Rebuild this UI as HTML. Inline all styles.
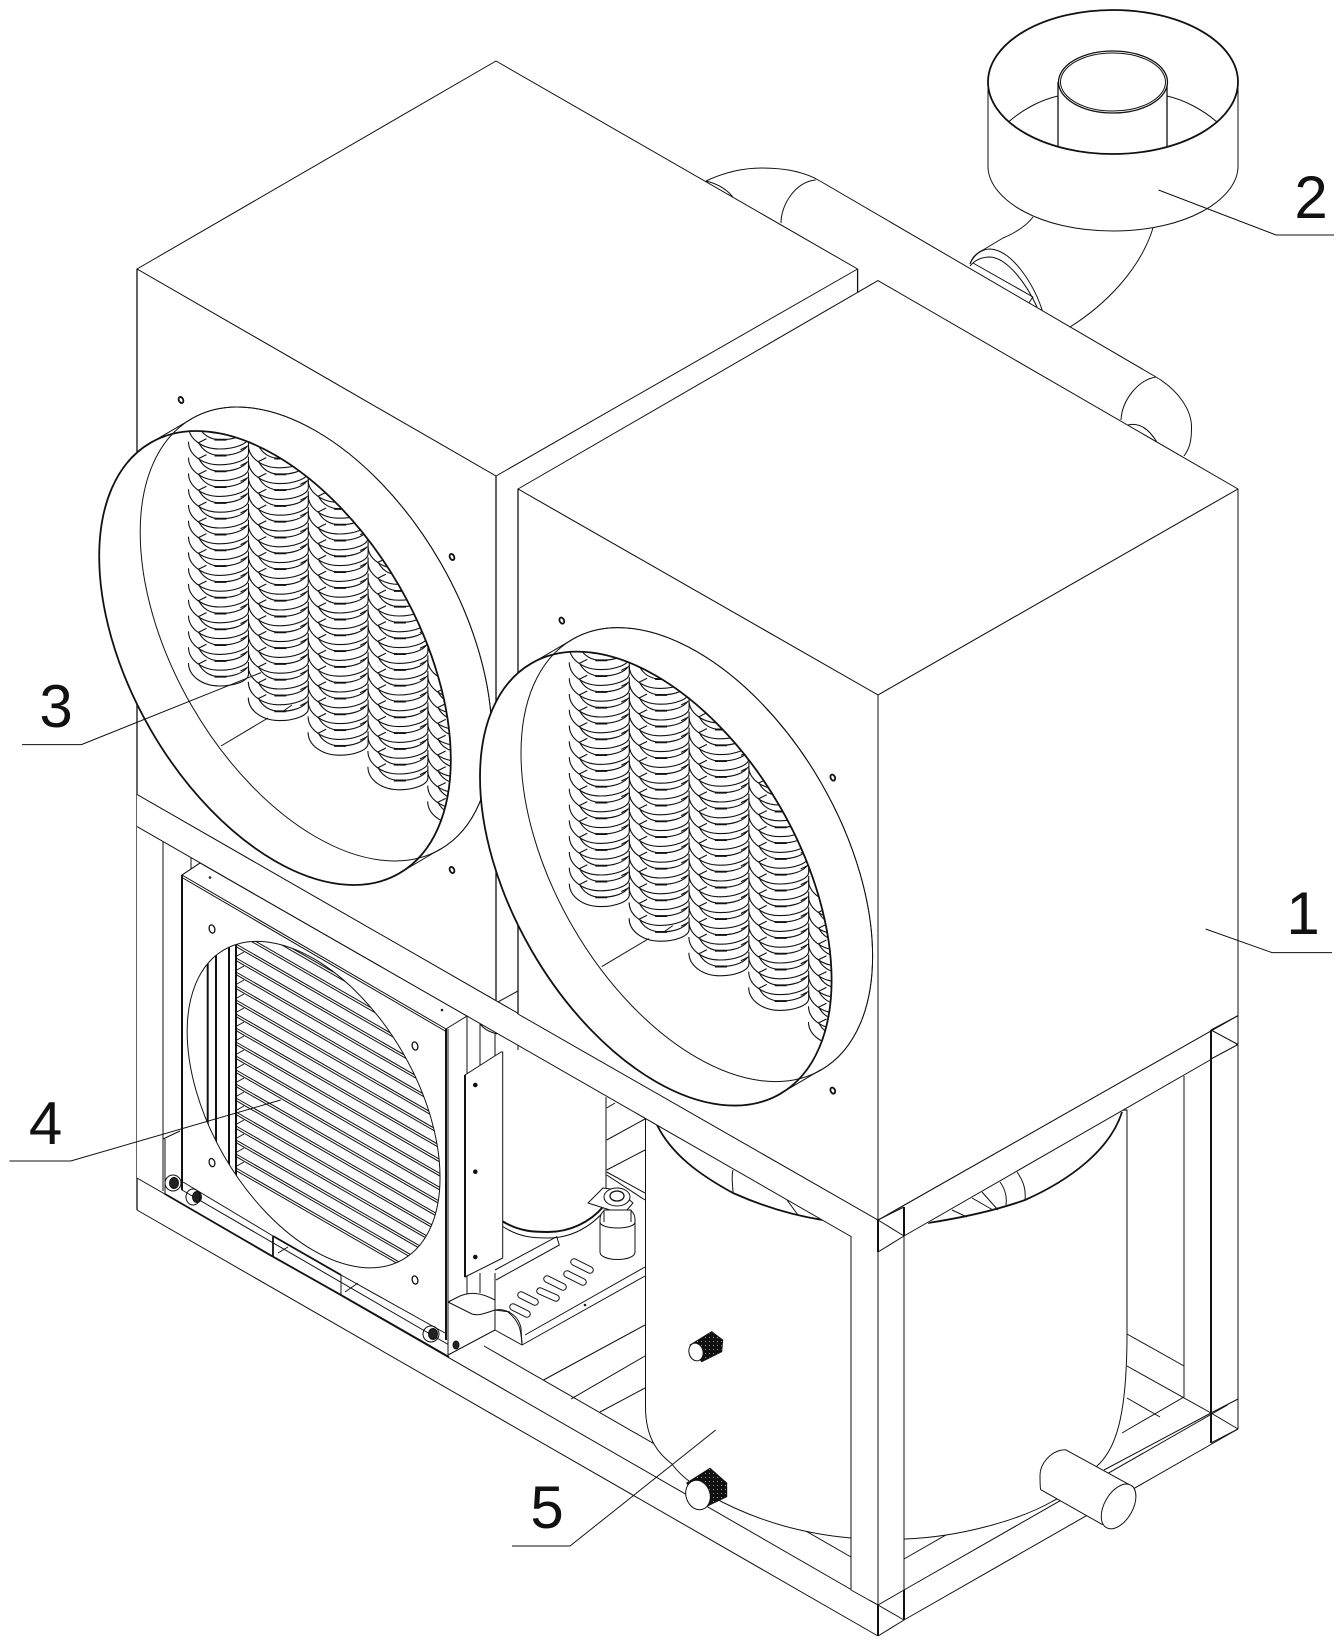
<!DOCTYPE html>
<html><head><meta charset="utf-8"><style>
html,body{margin:0;padding:0;background:#fff}
svg{display:block}
.g *{vector-effect:non-scaling-stroke}
text{font-family:"Liberation Sans",sans-serif;font-size:60px;fill:#111;stroke:none;text-anchor:middle}
.w{fill:#fff}.b{stroke-width:1.8}.m{stroke-width:1.3}
</style></head><body>
<svg width="1343" height="1647" viewBox="0 0 1343 1647" xmlns="http://www.w3.org/2000/svg" fill="none" stroke="#111" stroke-width="1" stroke-linejoin="round">
<defs>
<clipPath id="c1"><circle r="203" transform="matrix(.866 .5 0 1 275 658)"/></clipPath>
<clipPath id="c2" clip-path="url(#c1)"><circle r="203" transform="matrix(.866 .5 0 1 316 634)"/></clipPath>
<clipPath id="fc"><circle r="146" transform="matrix(.866 .5 0 1 313.6 1104.6)"/></clipPath>
<pattern id="kn" width="4" height="4" patternUnits="userSpaceOnUse"><rect width="4" height="4" fill="#111" stroke="none"/><rect x="1" y="1" width="1" height="1" fill="#999" stroke="none"/></pattern>
<g id="u" stroke-width="1.1">
<path d="M0,-23C0,-10 14,0 31,0C46,0 60,-5 60,-12V-24"/>
<path d="M10,-22.7C14,-14 22,-9.3 32,-9.3C45,-9.3 55,-13 59,-19"/>
<path d="M26,-9.3h12" stroke-width="1.9"/>
<path d="M10,-22l8,-4M52,-15l6,-3"/>
</g>
<g id="col">
<use href="#u"/><use href="#u" y="-15.8"/><use href="#u" y="-31.6"/><use href="#u" y="-47.4"/><use href="#u" y="-63.2"/><use href="#u" y="-79"/><use href="#u" y="-94.8"/><use href="#u" y="-110.6"/><use href="#u" y="-126.4"/><use href="#u" y="-142.2"/><use href="#u" y="-158"/><use href="#u" y="-173.8"/><use href="#u" y="-189.6"/><use href="#u" y="-205.4"/><use href="#u" y="-221.2"/><use href="#u" y="-237"/><use href="#u" y="-252.8"/><use href="#u" y="-268.6"/>
</g>
<g id="duct">
<g class="b"><ellipse cx="181" cy="400" rx="2.2" ry="3.2" transform="rotate(-25 181 400)"/><ellipse cx="452" cy="557" rx="2.2" ry="3.2" transform="rotate(-25 452 557)"/><ellipse cx="452" cy="870" rx="2.2" ry="3.2" transform="rotate(-25 452 870)"/></g>
<g class="g">
<circle class="w" r="203" transform="matrix(.866 .5 0 1 316 634)"/>
<polygon class="w" stroke="none" points="150.7,442.8 191.7,418.8 440.3,849 399.3,873.2"/>
<circle class="w" r="203" stroke="none" transform="matrix(.866 .5 0 1 275 658)"/>
<circle r="203" transform="matrix(.866 .5 0 1 316 634)"/>
</g>
<path d="M150.7,442.8L191.7,418.8M399.3,873.2L440.3,849"/>
<path d="M221,746L268,718M282,712L292,705"/>
<g clip-path="url(#c2)">
<use href="#col" x="188.5" y="686"/>
<use href="#col" x="248.3" y="720.6"/>
<use href="#col" x="308.1" y="755.2"/>
<use href="#col" x="367.9" y="789.8"/>
<use href="#col" x="427.7" y="824.4"/>
</g>
<g class="g"><circle r="203" stroke-width="1.8" transform="matrix(.866 .5 0 1 275 658)"/></g>
</g>
<g id="fin"><path d="M236,0L460,129M236,2.6L460,131.6M236,-1.5L244,-6"/></g>
</defs>
<rect width="1343" height="1647" fill="#fff" stroke="none"/>

<!-- elbow and blower -->
<path d="M1153,228C1140,270 1105,305 1070,327"/>
<path d="M1033,217C1025,228 1010,235 1003,238L983,250C975,254 972,258 970,264"/>
<path d="M970,264C975,252 985,249 990,249C1012,250 1035,285 1043,313"/>
<path d="M970,266C975,260 982,257 990,257C1008,258 1027,285 1037,307"/>
<path d="M973,263L1033,297L1028,304"/>
<path class="w" d="M988,82V168C990,200 1040,231 1113,231C1186,231 1236,200 1238,168V82Z"/>
<ellipse class="w b" cx="1113" cy="82" rx="125" ry="72"/>
<path d="M1008.5,122C1022,110 1040,100 1058,96M1167,96C1185,100 1203,110 1217,122"/>
<path class="m" d="M1058,82V147M1167,82V147"/>
<ellipse class="w m" cx="1113" cy="82" rx="54.5" ry="31"/>
<ellipse cx="1113" cy="82" rx="52.5" ry="29"/>
<!-- pipe -->
<path class="w" d="M706,181C725,172 745,168 762,168C785,168 805,172 820,181L1043,311L1156,377C1178,390 1192,410 1191.5,428C1191.5,440 1190,448 1184,456L850,270Z" stroke="none"/>
<path d="M706,181C725,172 745,168 762,168C785,168 805,172 820,181L1156,377C1178,390 1192,410 1191.5,428C1191.5,440 1190,448 1184,456"/>
<path d="M815.6,180C795,182 781,205 781,223M706,181C718,184 728,190 734,198.6M1156,377C1138,380 1122,400 1121,420M1128,425C1140,422 1150,430 1158,444"/>

<!-- back box -->
<polygon class="w" points="496,61 857.6,269 496,476 137,269"/>
<polygon class="w" points="137,269 496,476 496,1001 137,794.5"/>
<path class="m" d="M137,269V1210M496,476V1003"/>
<path class="m" d="M857.6,269V293"/>
<path d="M857.6,293L872,284"/>
<use href="#duct"/>

<!-- area below rail: posts -->
<path class="w" stroke="none" d="M137,826V1178L878,1605V1252Z"/>
<path d="M163,841V1191M137,1178L878,1605M137,1210L878,1636"/>
<path d="M191,857V873M518,1014V991L496,1003M496,1003V1030M518,991V1050"/>
<path d="M165,1139V1194M163,1139L180,1131"/>

<!-- compressor and base behind -->
<path d="M606,1097V1190M480,1024V1065M495,1034V1070M480,1024C485,1030 490,1032 497,1034"/>
<path d="M480,1273V1293M495,1273V1300"/>
<path d="M606.7,1108L615,1103M606.7,1140L645,1119M606.7,1170L645,1150"/>
<path d="M606.7,1172L645,1193M606.7,1175L645,1200"/>
<path stroke-width="2" d="M502,1221C520,1232 535,1232 548,1232C570,1232 590,1222 603,1207"/>
<path d="M502,1226C520,1238 535,1238 548,1238C572,1238 592,1226 605,1210"/>
<path d="M495,1270L556.7,1236.7L559.3,1245L496,1280"/>
<!-- capacitor -->
<path class="w" d="M600,1220V1252C600,1262 635,1262 635,1252V1220C635,1212 631,1212 631,1210H604C604,1212 600,1212 600,1220Z"/>
<path d="M600,1222C600,1230 635,1230 635,1222"/>
<path d="M604,1210V1222M631,1210V1222"/>
<polygon class="w" points="588,1203 603,1188 618,1190 633,1203 627,1210 610,1210"/>
<ellipse class="w" cx="617" cy="1197" rx="13" ry="9"/>
<ellipse class="m" cx="617" cy="1196" rx="7" ry="5"/>
<!-- base plate -->
<path d="M525,1335L645,1267M522,1345L645,1276M522,1345C521,1330 520,1322 508,1312"/>
<path d="M495,1330L522,1345M495,1310L510,1312"/>
<path d="M543.5,1380L645,1325M571,1399L645,1356M600,1412L645,1388"/>
<g stroke-linecap="round">
<g stroke-width="7.5"><path d="M513,1307L527,1314M521,1295L535,1302M540,1291L556,1298M547,1279L563,1287M567,1274L583,1282M574,1262L590,1270"/></g>
<g stroke="#fff" stroke-width="5.5"><path d="M513,1307L527,1314M521,1295L535,1302M540,1291L556,1298M547,1279L563,1287M567,1274L583,1282M574,1262L590,1270"/></g>
</g>
<circle cx="585" cy="1305" r=".8"/>

<!-- heat exchanger 4 -->
<polygon class="w" points="182,875 200,863 467,1016 467,1330 449,1345 182,1190"/>
<path d="M182,875L200,863M446,1029L467,1016"/>
<path d="M182,875L446,1029M182,877.5L446,1031.5"/>
<path d="M183,1182L273,1236M341,1275L445,1333"/>
<path stroke-width="2" d="M182,875V1190M446,1029V1340"/>
<path d="M448,1029V1345"/>
<path stroke-width="1.8" d="M165,1194L273,1256.7M341,1295L449,1357M273,1236L341,1275M273,1236V1256.7"/>
<path stroke-width="1.8" d="M273,1256.7L341,1295"/>
<path d="M341,1275V1295M278,1253L288,1247M345,1292L358,1283"/>
<g class="m"><ellipse cx="212" cy="929" rx="2.8" ry="4.2" transform="rotate(-15 212 929)"/><ellipse cx="415" cy="1046" rx="2.8" ry="4.2" transform="rotate(-15 415 1046)"/><ellipse cx="212" cy="1162.6" rx="2.8" ry="4.2" transform="rotate(-15 212 1162.6)"/><ellipse cx="415" cy="1280" rx="2.8" ry="4.2" transform="rotate(-15 415 1280)"/></g>
<circle cx="210" cy="877.5" r=".8"/><circle cx="442" cy="1010" r=".8"/>
<g clip-path="url(#fc)">
<path stroke-width="2" d="M207.7,930V1200M216,930V1200M229,930V1200M236,930V1200"/>
<use href="#fin" y="1168"/><use href="#fin" y="1154"/><use href="#fin" y="1140"/><use href="#fin" y="1126"/><use href="#fin" y="1112"/><use href="#fin" y="1098"/><use href="#fin" y="1084"/><use href="#fin" y="1070"/><use href="#fin" y="1056"/><use href="#fin" y="1042"/><use href="#fin" y="1028"/><use href="#fin" y="1014"/><use href="#fin" y="1000"/><use href="#fin" y="986"/><use href="#fin" y="972"/><use href="#fin" y="958"/><use href="#fin" y="944"/><use href="#fin" y="930"/><use href="#fin" y="916"/>
</g>
<g class="g"><circle r="146" transform="matrix(.866 .5 0 1 313.6 1104.6)"/></g>
<!-- bolts -->
<g fill="#222" stroke="#111">
<ellipse cx="174" cy="1183" rx="4.5" ry="5.5"/><ellipse cx="197" cy="1197" rx="4.5" ry="5.5"/><ellipse cx="433" cy="1334" rx="4.5" ry="5.5"/><ellipse cx="456" cy="1345" rx="3" ry="4"/>
</g>
<g><ellipse cx="173" cy="1183" rx="8" ry="8"/><ellipse cx="193" cy="1197" rx="7" ry="8"/><ellipse cx="431" cy="1334" rx="8" ry="8"/></g>
<!-- side box and bracket -->
<path class="w" d="M448,1302L460,1296C470,1292 480,1292 495,1300V1330L448,1355Z"/>
<path d="M448,1302L472,1314C478,1316 483,1314 495,1310C505,1308 518,1314 521,1328L522,1345"/>
<path d="M448,1302V1355"/>
<ellipse cx="456" cy="1345" rx="3" ry="4" fill="#222"/>
<path class="w" d="M465,1075L501,1052L502.7,1052V1258L465,1277Z"/>
<path stroke-width="2" d="M465,1075V1277"/>
<circle cx="475.3" cy="1085" r="1.8" fill="#111"/><circle cx="475.3" cy="1171.7" r="1.8" fill="#111"/><circle cx="475.3" cy="1257" r="1.8" fill="#111"/>

<!-- inner back rails on right -->
<path d="M1127,1334L1184,1366M1127,1366L1211,1413M1127,1398L1160,1417M1122,1433L1184,1397M484,1346L851,1557M904,1559L1000,1504"/>
<path d="M1184,1076V1397"/>

<!-- tank -->
<path class="w" d="M645.5,1118V1407C645.5,1440 660,1455 672,1464C690,1490 760,1530 851,1538L905,1539C960,1537 1020,1520 1053,1501C1075,1490 1090,1480 1096,1467C1115,1450 1127,1420 1127,1333V1110Z"/>
<path class="b" d="M657,1125C672,1155 700,1175 733,1193C760,1205 790,1215 823,1220"/>
<path d="M733,1170C731,1178 733,1186 733,1193M787,1200L798,1215L820,1220"/>
<path class="b" d="M928,1223C960,1218 997,1210 1025,1200C1070,1180 1110,1150 1122,1112"/>
<path d="M1017,1172C1024,1182 1026,1190 1025,1200M1000,1182C1006,1190 1007,1198 1006,1205M982,1192L998,1210M972,1198L993,1210M952,1210L967,1217"/>

<!-- rails -->
<polygon class="w" stroke="none" points="137,794.5 878,1220 878,1252 137,826.6"/>
<polygon class="w" stroke="none" points="878,1220 1238,1015.6 1238,1044 878,1252"/>
<path d="M137,794.5L878,1220M137,826.6L878,1252"/>
<path d="M878,1220L1238,1015.6M904,1236L1238,1044"/>
<path d="M904,1620L1238,1429M904,1590L1238,1399"/>

<!-- front box -->
<polygon class="w" points="878,280.6 1238,489 878,695 518,489"/>
<polygon class="w" points="518,489 878,695 878,1220 518,1014"/>
<polygon class="w" points="878,695 1238,489 1238,1015.6 878,1220"/>
<path class="m" d="M518,489V1014"/>
<use href="#duct" transform="translate(380.8 220.6)"/>

<!-- posts -->
<rect class="w" x="851" y="1236" width="53" height="354" stroke="none"/>
<rect class="w" x="851" y="1590" width="27" height="10" stroke="none"/>
<path d="M851,1236V1590M878,695V1636M904,1207V1620"/>
<path d="M1238,489V1429M851,1590L878,1605"/>
<rect class="w" x="1211" y="1045" width="27" height="360" stroke="none"/>
<path d="M1238,1030V1429"/>
<path stroke-width="2" d="M1211,1030V1443"/>
<path d="M878,1220L904,1207M878,1252L904,1236M878,1220L904,1236"/>
<path stroke-width="2" d="M878,1220V1252M904,1207V1236"/>
<path d="M1211,1030L1238,1015.6M1211,1059L1238,1044.5M1211,1030L1238,1044.5"/>
<path d="M878,1605L904,1590M878,1636L904,1620M878,1605L904,1620"/>
<path stroke-width="2" d="M878,1605V1636M904,1590V1620"/>
<path d="M1211,1413L1238,1399M1211,1443L1238,1429M1211,1413L1238,1429"/>
<path d="M1104,1470L1211,1413"/>

<!-- knobs -->
<polygon fill="url(#kn)" points="690,1345 711.7,1331.7 722.7,1340 721.7,1351.7 701.7,1361.7"/>
<ellipse class="w" cx="696" cy="1352" rx="7" ry="9" transform="rotate(-15 696 1352)"/>
<polygon fill="url(#kn)" points="686.7,1483 710,1468.3 726.7,1483 726.7,1496.7 703,1508"/>
<ellipse class="w" cx="698" cy="1495" rx="12" ry="15" transform="rotate(-18 698 1495)"/>

<!-- outlet pipe -->
<polygon class="w" stroke="none" points="1065.5,1449.7 1133,1486.7 1102.8,1524.8 1040.6,1489.6"/>
<path d="M1065.5,1449.7L1133,1486.7M1040.6,1489.6L1102.8,1524.8"/>
<path d="M1065.5,1449.7C1050,1450 1040,1465 1040,1475C1040,1482 1040,1486 1040.6,1489.6"/>
<g class="g"><circle class="w" r="20" transform="matrix(.866 -.5 0 1 1118.6 1506.4)"/></g>

<!-- leaders -->
<path d="M1205.6,929L1272,952.6H1332"/>
<path d="M1158.5,190L1276,235H1334"/>
<path d="M261,672.6L81.4,744.6H22"/>
<path d="M280.7,1100L70.7,1161H9.4"/>
<path d="M715.7,1430L570,1546H512"/>
<text x="1303" y="934">1</text>
<text x="1311" y="218">2</text>
<text x="56" y="727">3</text>
<text x="45.5" y="1144">4</text>
<text x="547" y="1528">5</text>
</svg>
</body></html>
